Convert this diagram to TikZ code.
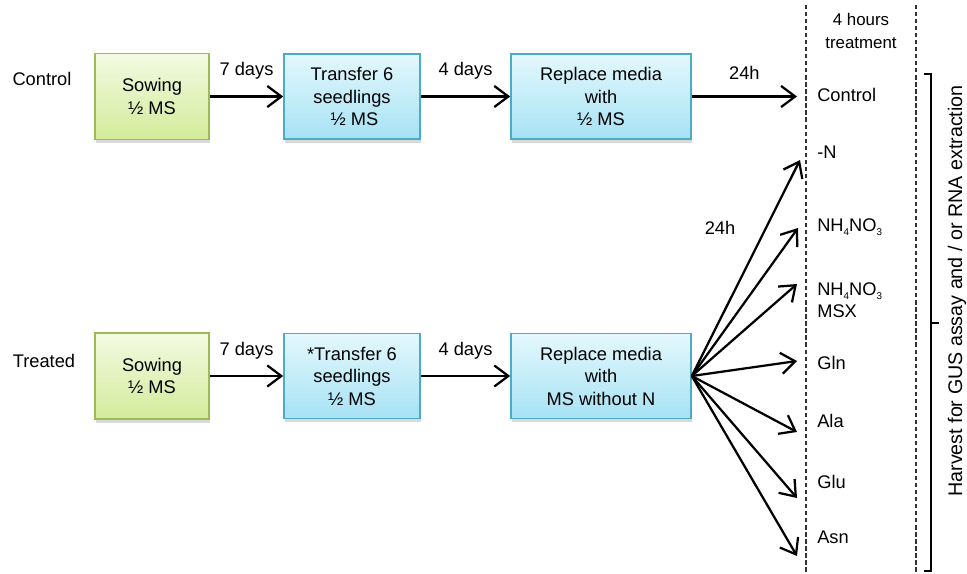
\documentclass[tikz,border=0pt]{standalone}
\usepackage{fontspec}
\setmainfont{Liberation Sans}
\usetikzlibrary{positioning,arrows.meta,shadows}
\definecolor{sowline}{HTML}{9BBB59}
\definecolor{sowtop}{HTML}{F3FAE2}
\definecolor{sowbot}{HTML}{D3EB9A}
\definecolor{trline}{HTML}{4BACC6}
\definecolor{trtop}{HTML}{E4F8FD}
\definecolor{trbot}{HTML}{A6E2F4}

\begin{document}
\begin{tikzpicture}[x=0.025cm,y=-0.025cm,>={Straight Barb[length=10pt,width=15pt]},
  font=\fontsize{13}{16}\selectfont,
  stage/.style={draw,line width=1.1pt,align=center,inner sep=0pt,
    drop shadow={shadow xshift=1pt,shadow yshift=-2.5pt,opacity=0.3}},
  sowbox/.style={stage,draw=sowline,top color=sowtop,bottom color=sowbot,
    minimum width=2.85cm,minimum height=2.15cm},
  trbox/.style={stage,draw=trline,top color=trtop,bottom color=trbot,
    minimum width=3.4cm,minimum height=2.13cm},
  repbox/.style={stage,draw=trline,top color=trtop,bottom color=trbot,
    minimum width=4.5cm,minimum height=2.13cm},
  flow/.style={->,line width=1.6pt},
  tlbl/.style={anchor=west,inner sep=0pt,align=left},
  sep/.style={dashed,dash pattern=on 3pt off 2pt,line width=0.8pt,black!80}]
  \useasboundingbox (0,0) rectangle (967,573);
  % control row
  \node (ctl) at (42,79) {Control};
  \node[sowbox] (s1) at (152,96.5) {Sowing\\½ MS};
  \node[trbox] (t1) at (352,96.5) {Transfer 6\\seedlings\\\ ½ MS};
  \node[repbox] (r1) at (601,96.5) {Replace media\\with\\½ MS};
  \coordinate (cC) at (797,96.5);
  \draw[flow] (s1) -- (t1) node[midway,above=8pt]{7 days};
  \draw[flow] (t1) -- (r1) node[midway,above=8pt]{4 days};
  \draw[flow] (r1) -- (cC) node[midway,above=8pt]{24h};
  % treated row
  \node (trt) at (44,361) {Treated};
  \node[sowbox] (s2) at (152,376) {Sowing\\½ MS};
  \node[trbox] (t2) at (352,376) {*Transfer 6\\seedlings\\½ MS};
  \node[repbox] (r2) at (601,376) {Replace media\\with\\MS without N};
  \draw[flow] (s2) -- (t2) node[midway,above=8pt]{7 days};
  \draw[flow] (t2) -- (r2) node[midway,above=8pt]{4 days};
  \node (h24) at (720,228) {24h};
  % treatments
  \coordinate (cN) at (800,160);
  \coordinate (cNH) at (798,228);
  \coordinate (cMSX) at (797,284);
  \coordinate (cGln) at (797,361);
  \coordinate (cAla) at (797,432);
  \coordinate (cGlu) at (797,498);
  \coordinate (cAsn) at (797,556);
  \foreach \tg in {cN,cNH,cMSX,cGln,cAla,cGlu,cAsn}
    \draw[flow] (r2.east) -- (\tg);
  \node[tlbl] (lC) at (817,95) {Control};
  \node[tlbl] (lN) at (817,152) {-N};
  \node[tlbl] (lNH) at (817,227) {NH\raisebox{-0.45ex}{\scriptsize 4}NO\raisebox{-0.45ex}{\scriptsize 3}};
  \node[tlbl] (lMSX) at (817,300) {NH\raisebox{-0.45ex}{\scriptsize 4}NO\raisebox{-0.45ex}{\scriptsize 3}\\MSX};
  \node[tlbl] (lGln) at (817,363) {Gln};
  \node[tlbl] (lAla) at (817,421) {Ala};
  \node[tlbl] (lGlu) at (817,482) {Glu};
  \node[tlbl] (lAsn) at (817,537) {Asn};
  % separators and harvest bracket
  \draw[sep] (806,5) -- (806,573);
  \draw[sep] (916,5) -- (916,573);
  \node[align=center,font=\fontsize{12}{16}\selectfont] (hrs) at (861,31) {4 hours\\treatment};
  \draw[line width=1.1pt] (924,74) -- (931,74) -- (931,571) -- (924,571);
  \draw[line width=1.1pt] (931,323) -- (939,323);
  \node[rotate=90,font=\fontsize{14}{16}\selectfont] (hv) at (957,291) {Harvest for GUS assay and / or RNA extraction};
\end{tikzpicture}
\end{document}
